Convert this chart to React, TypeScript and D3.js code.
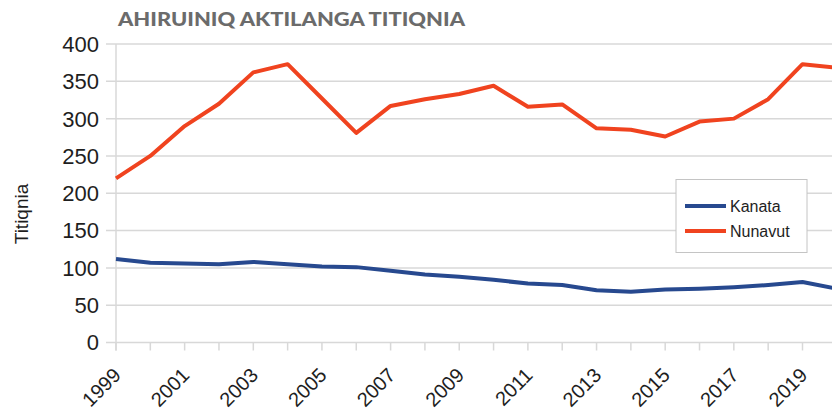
import * as d3 from 'd3';
import { useEffect, useRef } from 'react';

const years = [1999, 2000, 2001, 2002, 2003, 2004, 2005, 2006, 2007, 2008, 2009, 2010, 2011, 2012, 2013, 2014, 2015, 2016, 2017, 2018, 2019, 2020];
const kanata = [112, 107, 106, 105, 108, 105, 102, 101, 96, 91, 88, 84, 79, 77, 70, 68, 71, 72, 74, 77, 81, 72];
const nunavut = [220, 250, 290, 320, 362, 373, 327, 281, 317, 326, 333, 344, 316, 319, 287, 285, 276, 296, 300, 326, 373, 368];
const yTicks = [0, 50, 100, 150, 200, 250, 300, 350, 400];
const labelYears = [1999, 2001, 2003, 2005, 2007, 2009, 2011, 2013, 2015, 2017, 2019];
const seriesNames = ['Kanata', 'Nunavut'];
const seriesColors = ['#27498f', '#f0431f'];

export default function App() {
    const svgRef = useRef<SVGSVGElement>(null);
    const width = 832;
    const height = 413;

    useEffect(() => {
        const svg = d3.select(svgRef.current);
        svg.selectAll('*').remove();

        const x = d3.scaleLinear().domain([1999, 2019]).range([116, 802.5]);
        const y = d3.scaleLinear().domain([0, 400]).range([342.5, 44]);
        const grid = '#d8d8d8';

        svg.append('rect').attr('width', width).attr('height', height).attr('fill', 'white');

        // gridlines + y ticks
        svg.append('g')
            .selectAll('line')
            .data(yTicks)
            .enter()
            .append('line')
            .attr('x1', 106)
            .attr('x2', width)
            .attr('y1', (d) => y(d))
            .attr('y2', (d) => y(d))
            .attr('stroke', grid)
            .attr('stroke-width', 1.5);

        svg.append('line')
            .attr('x1', x(1999)).attr('x2', x(1999))
            .attr('y1', y(400)).attr('y2', y(0) + 8)
            .attr('stroke', grid).attr('stroke-width', 1.5);

        svg.append('g')
            .selectAll('line')
            .data(years)
            .enter()
            .append('line')
            .attr('x1', (d) => x(d))
            .attr('x2', (d) => x(d))
            .attr('y1', y(0))
            .attr('y2', y(0) + 8)
            .attr('stroke', grid)
            .attr('stroke-width', 1.5);

        svg.append('g')
            .selectAll('text')
            .data(yTicks)
            .enter()
            .append('text')
            .attr('x', 99)
            .attr('y', (d) => y(d))
            .attr('dy', '0.36em')
            .attr('text-anchor', 'end')
            .style('font-family', 'Liberation Sans, Arial, sans-serif')
            .style('font-size', '22px')
            .attr('fill', '#1e1e1e')
            .text((d) => d);

        svg.append('g')
            .selectAll('text')
            .data(labelYears)
            .enter()
            .append('text')
            .attr('transform', (d) => `translate(${x(d) + 6}, ${y(0) + 34}) rotate(-45)`)
            .attr('text-anchor', 'end')
            .style('font-family', 'Liberation Sans, Arial, sans-serif')
            .style('font-size', '20px')
            .attr('fill', '#1e1e1e')
            .text((d) => d);

        svg.append('text')
            .attr('transform', `translate(28, 214) rotate(-90)`)
            .attr('text-anchor', 'middle')
            .style('font-family', 'Liberation Sans, Arial, sans-serif')
            .style('font-size', '19px')
            .attr('fill', '#1e1e1e')
            .text('Titiqnia');

        svg.append('text')
            .attr('x', 118)
            .attr('y', 26)
            .attr('textLength', 347)
            .attr('lengthAdjust', 'spacingAndGlyphs')
            .style('font-family', 'Lato, sans-serif')
            .style('font-weight', '900')
            .style('font-size', '18px')
            .attr('fill', '#6b6b6b')
            .text('AHIRUINIQ AKTILANGA TITIQNIA');

        const line = d3.line<number>()
            .x((_, i) => x(years[i]))
            .y((d) => y(d));

        [kanata, nunavut].forEach((vals, i) => {
            svg.append('path')
                .datum(vals)
                .attr('d', line)
                .attr('fill', 'none')
                .attr('stroke', seriesColors[i])
                .attr('stroke-width', 4)
                .attr('stroke-linejoin', 'round');
        });

        // legend
        const legend = svg.append('g');
        legend.append('rect')
            .attr('x', 676).attr('y', 179.5)
            .attr('width', 131).attr('height', 73)
            .attr('fill', 'white')
            .attr('stroke', '#c4c4c4');
        seriesNames.forEach((name, i) => {
            const ly = 206 + i * 25;
            legend.append('line')
                .attr('x1', 685).attr('x2', 726)
                .attr('y1', ly).attr('y2', ly)
                .attr('stroke', seriesColors[i])
                .attr('stroke-width', 4);
            legend.append('text')
                .attr('x', 730).attr('y', ly)
                .attr('dy', '0.36em')
                .style('font-family', 'Liberation Sans, Arial, sans-serif')
                .style('font-size', '16px')
                .attr('fill', '#1e1e1e')
                .text(name);
        });
    }, []);

    return (
        <svg ref={svgRef} width={width} height={height}
            style={{ position: 'absolute', left: 0, top: 0 }}></svg>
    );
}
